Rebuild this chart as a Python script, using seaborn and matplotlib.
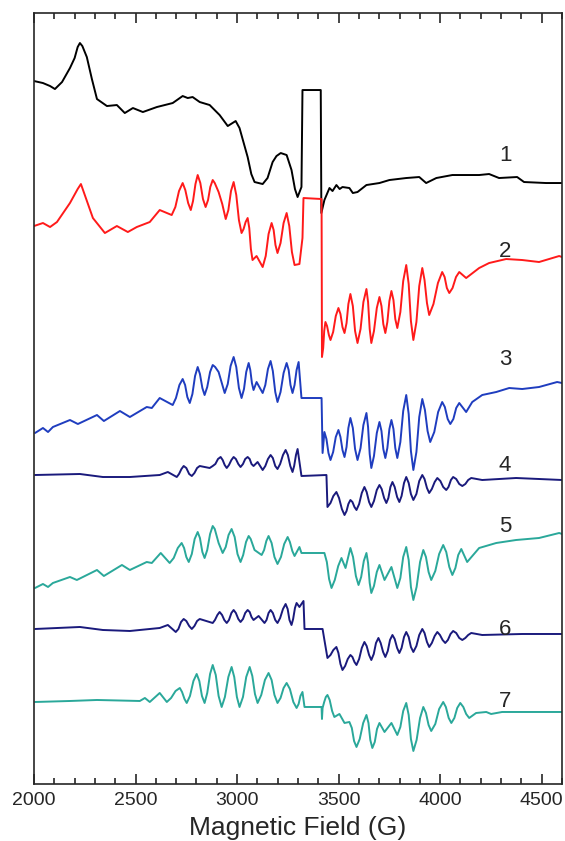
import numpy as np
import pandas as pd
import seaborn as sns
import matplotlib.pyplot as plt
from matplotlib.ticker import MultipleLocator

# field (G) and signal (arb. units), one pair per spectrum
field_1 = [2000, 2044, 2079, 2103, 2138, 2177, 2200, 2215, 2226, 2238,
           2260, 2285, 2310, 2359, 2408, 2447, 2487, 2536, 2605, 2683,
           2732, 2757, 2781, 2816, 2865, 2914, 2954, 2993, 3012, 3052,
           3070, 3086, 3126, 3150, 3175, 3194, 3215, 3244, 3268, 3285,
           3298, 3317, 3322, 3412, 3415, 3430, 3455, 3470, 3489, 3505,
           3519, 3553, 3570, 3593, 3637, 3701, 3750, 3833, 3897, 3931,
           3981, 4060, 4128, 4192, 4241, 4290, 4379, 4413, 4521, 4600]
signal_1 = [703, 701, 698, 695, 702, 716, 726, 737, 741, 738,
            727, 705, 685, 678, 679, 671, 676, 672, 677, 681,
            688, 686, 687, 682, 679, 669, 658, 663, 656, 627,
            610, 602, 600, 606, 622, 628, 631, 629, 614, 595,
            587, 597, 694, 694, 571, 584, 596, 593, 599, 595,
            597, 596, 591, 592, 599, 601, 604, 606, 607, 601,
            606, 609, 609, 609, 610, 606, 607, 602, 601, 601]

field_2 = [2000, 2044, 2079, 2113, 2177, 2215, 2231, 2245, 2290, 2349,
           2408, 2462, 2506, 2570, 2619, 2678, 2696, 2714, 2732, 2745,
           2759, 2772, 2783, 2795, 2806, 2819, 2832, 2845, 2857, 2868,
           2880, 2890, 2909, 2927, 2944, 2957, 2970, 2983, 2996, 3009,
           3022, 3032, 3042, 3052, 3060, 3068, 3076, 3096, 3126, 3141,
           3155, 3170, 3180, 3189, 3199, 3214, 3229, 3244, 3257, 3270,
           3283, 3307, 3322, 3327, 3416, 3418, 3424, 3429, 3435, 3443,
           3452, 3460, 3473, 3486, 3499, 3509, 3519, 3529, 3539, 3548,
           3558, 3570, 3581, 3593, 3608, 3622, 3637, 3645, 3653, 3661,
           3674, 3688, 3701, 3711, 3720, 3730, 3740, 3750, 3760, 3770,
           3779, 3789, 3804, 3818, 3833, 3845, 3856, 3868, 3883, 3897,
           3912, 3923, 3935, 3946, 3967, 3989, 4010, 4022, 4033, 4045,
           4061, 4078, 4094, 4128, 4192, 4241, 4325, 4404, 4487, 4586,
           4600]
signal_2 = [558, 561, 557, 562, 581, 595, 600, 592, 566, 551,
            558, 552, 557, 562, 574, 569, 577, 593, 601, 594,
            581, 574, 583, 600, 609, 601, 585, 577, 584, 597,
            604, 601, 592, 580, 565, 574, 593, 602, 589, 564,
            551, 555, 562, 566, 556, 535, 524, 528, 517, 528,
            550, 561, 554, 539, 531, 541, 561, 571, 558, 532,
            519, 520, 546, 586, 585, 427, 436, 453, 462, 458,
            449, 444, 452, 468, 476, 470, 457, 451, 461, 480,
            490, 478, 453, 441, 455, 482, 495, 482, 455, 441,
            453, 476, 487, 478, 460, 451, 462, 483, 493, 484,
            465, 456, 472, 503, 519, 500, 463, 444, 462, 498,
            516, 504, 481, 469, 480, 501, 512, 507, 496, 491,
            496, 507, 512, 506, 516, 521, 525, 524, 522, 528,
            527]

field_3 = [2005, 2044, 2069, 2093, 2177, 2216, 2310, 2344, 2423, 2472,
           2555, 2580, 2619, 2683, 2699, 2716, 2732, 2744, 2755, 2767,
           2780, 2793, 2806, 2817, 2829, 2840, 2853, 2867, 2880, 2892,
           2909, 2925, 2939, 2954, 2968, 2983, 2996, 3009, 3022, 3034,
           3045, 3057, 3065, 3073, 3081, 3096, 3126, 3139, 3152, 3165,
           3176, 3188, 3199, 3214, 3229, 3244, 3254, 3263, 3273, 3283,
           3293, 3303, 3317, 3416, 3421, 3430, 3440, 3450, 3460, 3473,
           3486, 3499, 3509, 3519, 3529, 3539, 3548, 3558, 3570, 3581,
           3593, 3608, 3622, 3637, 3645, 3653, 3661, 3674, 3688, 3701,
           3711, 3720, 3730, 3740, 3750, 3760, 3770, 3779, 3789, 3804,
           3818, 3833, 3845, 3856, 3868, 3883, 3897, 3912, 3925, 3938,
           3951, 3971, 3990, 4010, 4023, 4037, 4050, 4065, 4079, 4094,
           4128, 4158, 4207, 4276, 4340, 4404, 4487, 4576, 4600]
signal_3 = [351, 356, 352, 357, 364, 360, 369, 363, 373, 367,
            377, 376, 386, 379, 386, 399, 405, 399, 387, 381,
            390, 408, 417, 410, 396, 389, 397, 412, 419, 417,
            412, 401, 391, 400, 418, 427, 417, 396, 386, 395,
            412, 421, 414, 401, 394, 402, 391, 399, 415, 423,
            413, 392, 382, 392, 411, 421, 414, 399, 391, 399,
            414, 422, 386, 386, 331, 352, 345, 331, 324, 332,
            347, 354, 347, 334, 327, 337, 356, 366, 356, 335,
            324, 336, 359, 371, 357, 330, 316, 328, 351, 362,
            353, 335, 326, 336, 355, 364, 355, 336, 326, 342,
            373, 389, 370, 333, 314, 332, 367, 385, 374, 353,
            342, 352, 372, 382, 377, 365, 360, 365, 376, 381,
            372, 382, 389, 392, 396, 395, 397, 402, 401]

field_4 = [2005, 2226, 2339, 2472, 2619, 2659, 2703, 2714, 2726, 2737,
           2750, 2764, 2777, 2790, 2803, 2816, 2865, 2880, 2893, 2906,
           2919, 2929, 2939, 2949, 2960, 2972, 2983, 2994, 3006, 3017,
           3029, 3040, 3052, 3062, 3071, 3081, 3101, 3126, 3139, 3152,
           3165, 3176, 3188, 3199, 3212, 3226, 3239, 3250, 3262, 3273,
           3281, 3290, 3298, 3317, 3440, 3445, 3460, 3474, 3489, 3502,
           3516, 3529, 3539, 3548, 3558, 3568, 3578, 3588, 3601, 3614,
           3627, 3638, 3650, 3661, 3674, 3688, 3701, 3712, 3724, 3735,
           3745, 3755, 3765, 3776, 3788, 3799, 3810, 3822, 3833, 3845,
           3856, 3868, 3883, 3897, 3912, 3923, 3935, 3946, 3959, 3973,
           3986, 4001, 4015, 4030, 4041, 4053, 4064, 4079, 4094, 4109,
           4124, 4138, 4153, 4207, 4374, 4600]
signal_4 = [309, 310, 307, 307, 309, 312, 307, 310, 315, 318,
            316, 310, 308, 311, 316, 318, 316, 318, 320, 325,
            327, 324, 319, 316, 319, 324, 327, 325, 320, 317,
            320, 325, 327, 325, 320, 318, 322, 314, 318, 325,
            329, 326, 318, 315, 320, 329, 334, 329, 318, 312,
            318, 329, 335, 308, 309, 277, 281, 288, 292, 286,
            275, 269, 273, 280, 284, 282, 277, 274, 280, 291,
            297, 292, 282, 277, 283, 294, 299, 295, 286, 281,
            286, 297, 302, 297, 287, 282, 288, 301, 307, 301,
            290, 284, 290, 303, 309, 305, 296, 291, 295, 302,
            306, 303, 297, 294, 297, 304, 307, 305, 300, 298,
            300, 304, 306, 304, 306, 304]

field_5 = [2005, 2044, 2069, 2093, 2177, 2211, 2310, 2344, 2433, 2472,
           2555, 2580, 2624, 2668, 2688, 2708, 2727, 2739, 2750, 2762,
           2777, 2791, 2806, 2817, 2829, 2840, 2853, 2867, 2880, 2890,
           2909, 2929, 2944, 2958, 2973, 2988, 3002, 3017, 3030, 3044,
           3057, 3067, 3086, 3121, 3133, 3144, 3155, 3170, 3184, 3199,
           3216, 3232, 3249, 3260, 3272, 3283, 3307, 3317, 3430, 3442,
           3453, 3465, 3481, 3498, 3514, 3534, 3558, 3571, 3585, 3598,
           3611, 3624, 3637, 3645, 3653, 3661, 3674, 3688, 3701, 3726,
           3760, 3789, 3804, 3818, 3833, 3845, 3856, 3868, 3884, 3901,
           3917, 3930, 3943, 3956, 3976, 3995, 4015, 4030, 4045, 4060,
           4075, 4089, 4104, 4133, 4192, 4276, 4374, 4487, 4586, 4600]
signal_5 = [196, 200, 197, 201, 207, 204, 214, 208, 219, 214,
            222, 221, 231, 221, 226, 236, 241, 236, 227, 222,
            230, 245, 252, 246, 232, 226, 234, 250, 258, 255,
            241, 231, 237, 249, 255, 247, 230, 222, 229, 242,
            248, 245, 234, 229, 234, 243, 248, 241, 227, 220,
            227, 240, 247, 242, 233, 228, 237, 231, 231, 222,
            205, 196, 204, 218, 226, 216, 236, 227, 208, 199,
            207, 223, 231, 221, 201, 191, 198, 212, 219, 204,
            217, 196, 206, 227, 237, 224, 197, 184, 197, 222,
            234, 227, 212, 204, 213, 230, 239, 232, 217, 209,
            216, 229, 235, 222, 236, 241, 244, 246, 251, 250]

field_6 = [2005, 2226, 2339, 2472, 2619, 2659, 2698, 2711, 2724, 2737,
           2750, 2764, 2777, 2790, 2803, 2816, 2880, 2891, 2903, 2914,
           2926, 2937, 2949, 2960, 2972, 2983, 2994, 3006, 3017, 3029,
           3040, 3052, 3062, 3071, 3081, 3106, 3135, 3145, 3155, 3165,
           3176, 3188, 3199, 3212, 3226, 3239, 3249, 3258, 3268, 3276,
           3285, 3293, 3307, 3327, 3332, 3421, 3430, 3445, 3460, 3474,
           3489, 3499, 3509, 3519, 3532, 3545, 3558, 3568, 3578, 3588,
           3601, 3614, 3627, 3638, 3650, 3661, 3673, 3684, 3696, 3707,
           3719, 3730, 3742, 3753, 3765, 3776, 3788, 3799, 3810, 3822,
           3833, 3845, 3856, 3868, 3883, 3897, 3912, 3923, 3935, 3946,
           3959, 3973, 3986, 3999, 4012, 4025, 4038, 4051, 4064, 4079,
           4094, 4109, 4124, 4138, 4153, 4207, 4404, 4600]
signal_6 = [155, 157, 154, 153, 156, 159, 152, 155, 162, 165,
            163, 158, 155, 158, 163, 165, 161, 164, 169, 172,
            169, 164, 161, 164, 171, 174, 171, 165, 162, 165,
            171, 174, 172, 167, 164, 168, 161, 164, 171, 174,
            171, 164, 161, 166, 175, 180, 175, 164, 159, 165,
            176, 181, 177, 183, 155, 155, 144, 126, 129, 134,
            137, 131, 120, 114, 118, 125, 129, 127, 122, 119,
            125, 136, 142, 138, 129, 124, 130, 141, 146, 141,
            132, 127, 133, 144, 149, 145, 136, 131, 136, 147,
            152, 147, 137, 132, 138, 149, 155, 151, 142, 137,
            141, 148, 152, 149, 144, 141, 144, 150, 153, 151,
            146, 144, 146, 149, 151, 149, 150, 150]

field_7 = [2005, 2177, 2310, 2521, 2546, 2570, 2619, 2654, 2675, 2697,
           2718, 2729, 2741, 2752, 2768, 2785, 2801, 2814, 2827, 2840,
           2853, 2867, 2880, 2895, 2909, 2924, 2940, 2957, 2973, 2986,
           2999, 3012, 3029, 3045, 3062, 3075, 3088, 3101, 3119, 3137,
           3155, 3170, 3184, 3199, 3214, 3229, 3244, 3260, 3277, 3293,
           3303, 3312, 3322, 3332, 3416, 3418, 3421, 3429, 3437, 3445,
           3456, 3468, 3479, 3504, 3529, 3553, 3565, 3576, 3588, 3604,
           3621, 3637, 3647, 3656, 3666, 3678, 3689, 3701, 3726, 3760,
           3789, 3804, 3818, 3833, 3845, 3856, 3868, 3884, 3901, 3917,
           3930, 3943, 3956, 3976, 3995, 4015, 4028, 4042, 4055, 4070,
           4084, 4099, 4114, 4128, 4143, 4177, 4227, 4251, 4305, 4600]
signal_7 = [82, 83, 84, 83, 86, 82, 91, 82, 86, 93,
            96, 92, 85, 81, 88, 103, 110, 103, 88, 81,
            91, 110, 119, 109, 88, 77, 87, 107, 117, 107,
            87, 77, 87, 107, 117, 108, 90, 81, 89, 104,
            111, 104, 89, 81, 86, 96, 101, 95, 82, 76,
            80, 88, 92, 77, 77, 65, 76, 82, 87, 89,
            84, 73, 67, 70, 61, 62, 56, 43, 37, 45,
            61, 69, 61, 44, 36, 42, 55, 61, 52, 61,
            49, 57, 73, 81, 69, 45, 33, 44, 66, 77,
            71, 59, 53, 60, 75, 82, 77, 66, 61, 66,
            76, 81, 77, 70, 66, 71, 72, 70, 72, 72]

trace_names = ["1", "2", "3", "4", "5", "6", "7"]
trace_colors = ["#000000", "#ff1a1a", "#1f3dbf", "#1a1a7c", "#2aa89a", "#1a1a7c", "#2aa89a"]
label_y = [629, 533, 425, 319, 257, 154, 82]

fields = [field_1, field_2, field_3, field_4, field_5, field_6, field_7]
signals = [signal_1, signal_2, signal_3, signal_4, signal_5, signal_6, signal_7]

frames = []
for name, f, s in zip(trace_names, fields, signals):
    frames.append(pd.DataFrame({"field": f, "signal": s, "trace": name}))
df = pd.concat(frames, ignore_index=True)

sns.set_style("ticks")
plt.rcParams["font.family"] = ["Liberation Sans", "DejaVu Sans"]

fig = plt.figure(figsize=(5.65, 8.41), dpi=100)
ax = fig.add_axes([0.0602, 0.0678, 0.9345, 0.9167])

sns.lineplot(data=df, x="field", y="signal", hue="trace", units="trace",
             estimator=None, sort=False, palette=dict(zip(trace_names, trace_colors)),
             linewidth=1.4, legend=False, ax=ax)
for ln in ax.lines:
    ln.set_solid_joinstyle("round")

# trace numbers at the right
for name, yy in zip(trace_names, label_y):
    ax.text(4320, yy, name, fontsize=16, ha="center", va="center")

ax.set_xlim(2000, 4600)
ax.set_ylim(0, 771)
ax.xaxis.set_major_locator(MultipleLocator(500))
ax.xaxis.set_minor_locator(MultipleLocator(100))
ax.tick_params(axis="x", which="both", direction="in", top=True, bottom=True,
               labelsize=14, width=1.2, pad=6)
ax.tick_params(axis="x", which="major", length=7)
ax.tick_params(axis="x", which="minor", length=4)
ax.set_yticks([])
ax.set_ylabel("")
ax.set_xlabel("Magnetic Field (G)", fontsize=19, labelpad=5)
for sp in ax.spines.values():
    sp.set_linewidth(1.2)
    sp.set_visible(True)

fig.savefig("out.png", dpi=100)
